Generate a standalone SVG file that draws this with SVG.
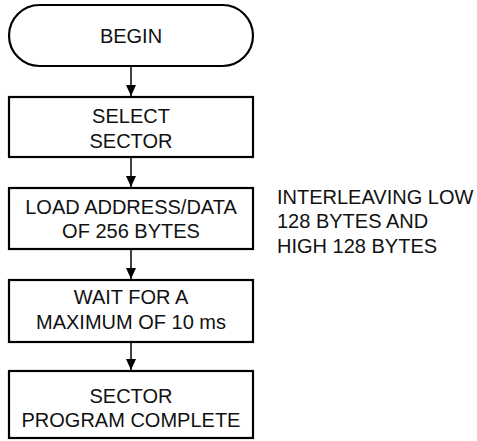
<svg xmlns="http://www.w3.org/2000/svg" width="477" height="441" viewBox="0 0 477 441">
<style>
.box{fill:#fff;stroke:#000;stroke-width:2.2}
.t{font-family:"Liberation Sans",Arial,sans-serif;font-size:20px;fill:#111;text-anchor:middle}
.n{font-family:"Liberation Sans",Arial,sans-serif;font-size:20px;fill:#111}
.c{stroke:#000;stroke-width:1.5;fill:none}
</style>
<defs>
<marker id="ah" markerWidth="12" markerHeight="10" refX="11" refY="5" orient="auto" markerUnits="userSpaceOnUse" viewBox="0 0 12 10">
<path d="M0,0 L11,5 L0,10 Z" fill="#000"/>
</marker>
</defs>
<rect width="477" height="441" fill="#fff"/>
<g id="connectors">
<line class="c" x1="131" y1="67" x2="131" y2="96" marker-end="url(#ah)"/>
<line class="c" x1="131" y1="157" x2="131" y2="187" marker-end="url(#ah)"/>
<line class="c" x1="131" y1="249" x2="131" y2="279" marker-end="url(#ah)"/>
<line class="c" x1="131" y1="342" x2="131" y2="370" marker-end="url(#ah)"/>
</g>
<g id="begin">
<rect class="box" x="9" y="5" width="244" height="61" rx="30.5" ry="30.5"/>
<text class="t" x="131" y="43">BEGIN</text>
</g>
<g id="select">
<rect class="box" x="9" y="97" width="244" height="60"/>
<text class="t" x="131" y="123">SELECT</text>
<text class="t" x="131" y="148">SECTOR</text>
</g>
<g id="load">
<rect class="box" x="9" y="188" width="244" height="61"/>
<text class="t" x="131" y="214">LOAD ADDRESS/DATA</text>
<text class="t" x="131" y="238">OF 256 BYTES</text>
</g>
<g id="note">
<text class="n" x="277" y="204">INTERLEAVING LOW</text>
<text class="n" x="277" y="228">128 BYTES AND</text>
<text class="n" x="277" y="253">HIGH 128 BYTES</text>
</g>
<g id="wait">
<rect class="box" x="9" y="280" width="244" height="62"/>
<text class="t" x="131" y="304">WAIT FOR A</text>
<text class="t" x="131" y="329">MAXIMUM OF 10 ms</text>
</g>
<g id="complete">
<rect class="box" x="9" y="371" width="244" height="67"/>
<text class="t" x="131" y="403">SECTOR</text>
<text class="t" x="131" y="427">PROGRAM COMPLETE</text>
</g>
</svg>
